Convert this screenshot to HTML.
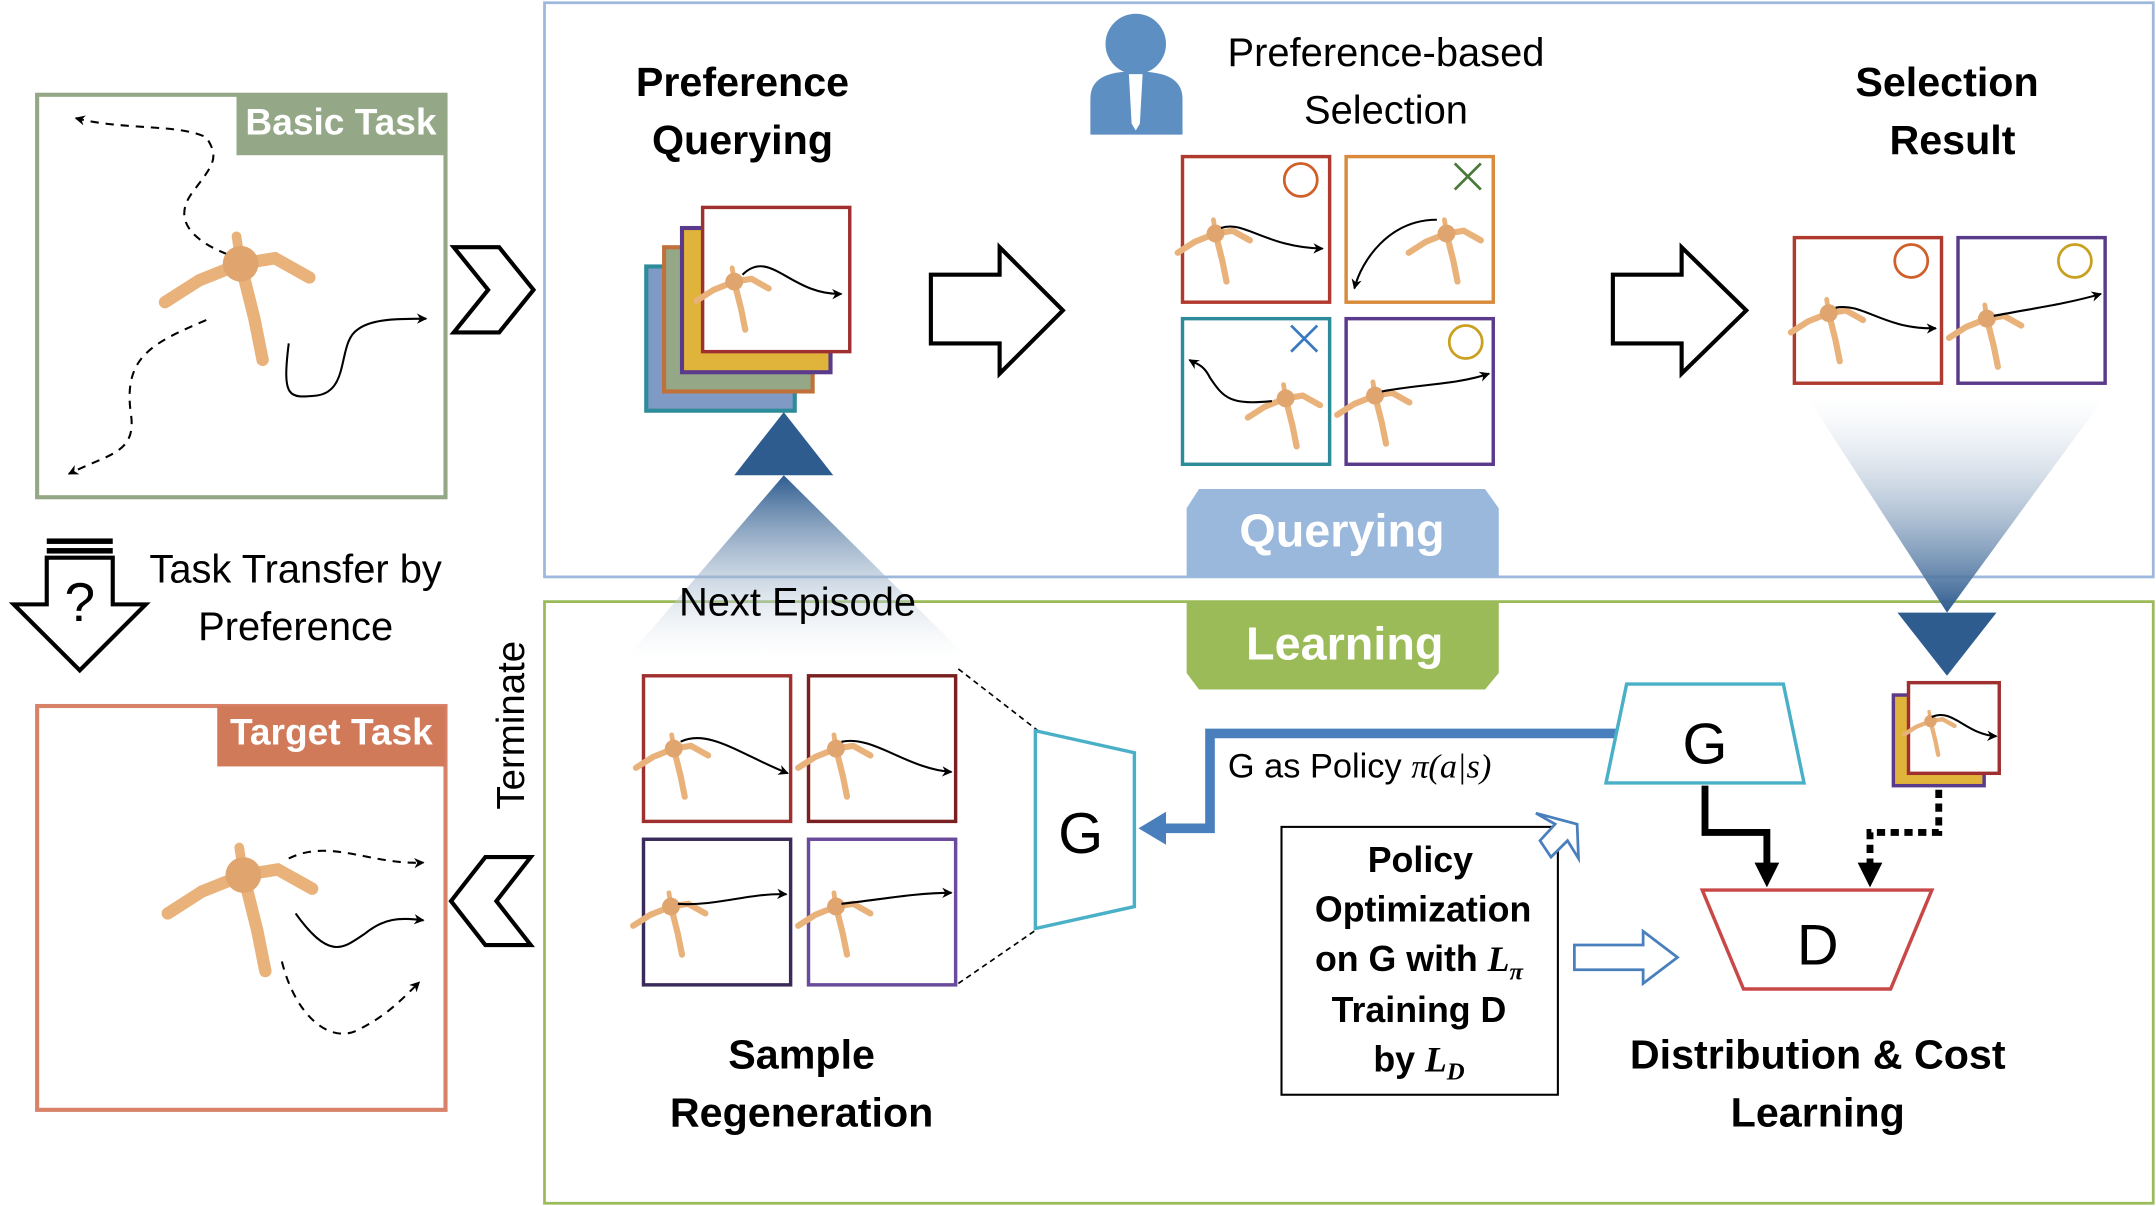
<!DOCTYPE html>
<html><head><meta charset="utf-8"><style>
html,body{margin:0;padding:0;background:#fff;width:2156px;height:1206px;overflow:hidden}
svg{display:block}
text{font-family:"Liberation Sans Narrow","Liberation Sans",sans-serif}
.b{font-weight:bold}
</style></head><body>
<svg width="2156" height="1206" viewBox="0 0 1568 878" preserveAspectRatio="none" xmlns="http://www.w3.org/2000/svg">
<defs>
<marker id="ah" viewBox="0 0 10 10" refX="9" refY="5" markerWidth="5" markerHeight="5" orient="auto"><path d="M0,0 L10,5 L0,10 L3,5z" fill="#000"/></marker>
<linearGradient id="gd" x1="0" y1="0" x2="0" y2="1"><stop offset="0" stop-color="#fff" stop-opacity="0.3"/><stop offset="1" stop-color="#2e5c8f"/></linearGradient>
<linearGradient id="gu" x1="0" y1="1" x2="0" y2="0"><stop offset="0" stop-color="#fff" stop-opacity="0.2"/><stop offset="1" stop-color="#2e5c8f"/></linearGradient>
<g id="ant">
 <g stroke="#e9b27a" stroke-linecap="round" fill="none">
  <path d="M0,0 L-30,12 L-55,28" stroke-width="9"/>
  <path d="M0,0 L25,-4 L50,10" stroke-width="9"/>
  <path d="M0,0 L10,40 L16,70" stroke-width="9"/>
  <path d="M0,0 L-3,-20" stroke-width="7"/>
 </g>
 <circle r="13" fill="#e0a56e"/>
</g>
</defs>

<rect x="396" y="2" width="1170" height="418" fill="none" stroke="#9db8dc" stroke-width="2"/>
<rect x="396" y="438" width="1170" height="438" fill="none" stroke="#9bbb59" stroke-width="2"/>

<!-- Basic Task -->
<rect x="27" y="69" width="297" height="293" fill="none" stroke="#94a887" stroke-width="3"/>
<rect x="172" y="69" width="152" height="44" fill="#94a887"/>
<text x="248" y="98" text-anchor="middle" font-size="27" fill="#fff" class="b">Basic Task</text>
<path d="M165,185 C140,175 125,160 140,140 C155,120 160,115 150,100 C130,90 90,95 55,86" fill="none" stroke="#000" stroke-width="1.5" stroke-dasharray="6,5" marker-end="url(#ah)"/>
<path d="M150,233 C110,250 90,260 95,300 C100,330 80,330 50,345" fill="none" stroke="#000" stroke-width="1.5" stroke-dasharray="6,5" marker-end="url(#ah)"/>
<use href="#ant" x="175" y="192"/>
<path d="M210,250 C205,290 210,290 230,288 C255,285 245,250 260,240 C270,232 290,232 310,232" fill="none" stroke="#000" stroke-width="1.5" marker-end="url(#ah)"/>

<polygon points="330,180 363,180 388,211 363,242 330,242 355,211" fill="#fff" stroke="#000" stroke-width="3"/>
<polygon points="386,624 353,624 328,656 353,688 386,688 361,656" fill="#fff" stroke="#000" stroke-width="3"/>

<rect x="34" y="392" width="48" height="4" fill="#000"/>
<rect x="34" y="399" width="48" height="4" fill="#000"/>
<polygon points="34,406 82,406 82,440 106,440 58,488 10,440 34,440" fill="#fff" stroke="#000" stroke-width="3"/>
<text x="58" y="452" text-anchor="middle" font-size="40" fill="#000">?</text>
<text x="215" y="424" text-anchor="middle" font-size="29">Task Transfer by</text>
<text x="215" y="466" text-anchor="middle" font-size="29">Preference</text>

<!-- Target Task -->
<rect x="27" y="514" width="297" height="294" fill="none" stroke="#d9826a" stroke-width="3"/>
<rect x="158" y="514" width="166" height="44" fill="#d07a5a"/>
<text x="241" y="542" text-anchor="middle" font-size="27" fill="#fff" class="b">Target Task</text>
<use href="#ant" x="177" y="637"/>
<path d="M210,625 C240,610 270,630 308,628" fill="none" stroke="#000" stroke-width="1.5" stroke-dasharray="6,5" marker-end="url(#ah)"/>
<path d="M215,665 C240,700 250,690 265,680 C280,668 290,668 308,670" fill="none" stroke="#000" stroke-width="1.5" marker-end="url(#ah)"/>
<path d="M205,700 C215,740 240,760 260,750 C280,740 290,730 305,715" fill="none" stroke="#000" stroke-width="1.5" stroke-dasharray="6,5" marker-end="url(#ah)"/>
<text transform="translate(381,528) rotate(-90)" text-anchor="middle" font-size="28">Terminate</text>

<!-- Preference Querying -->
<text x="540" y="70" text-anchor="middle" font-size="30" class="b">Preference</text>
<text x="540" y="112" text-anchor="middle" font-size="30" class="b">Querying</text>
<rect x="470" y="194" width="108" height="105" fill="#7f9ac4" stroke="#2e8b9a" stroke-width="3"/>
<rect x="483" y="180" width="108" height="105" fill="#94a887" stroke="#c0703a" stroke-width="3"/>
<rect x="496" y="166" width="108" height="105" fill="#e0b43a" stroke="#5a3a8a" stroke-width="3"/>
<rect x="511" y="151" width="107" height="105" fill="#fff" stroke="#a03030" stroke-width="2.5"/>
<use href="#ant" transform="translate(534,205) scale(0.5)"/>
<path d="M540,200 C560,180 575,215 612,214" fill="none" stroke="#000" stroke-width="1.5" marker-end="url(#ah)"/>

<polygon points="677,200 727,200 727,180 773,226 727,272 727,250 677,250" fill="#fff" stroke="#000" stroke-width="3"/>
<polygon points="1173,200 1223,200 1223,180 1270,226 1223,272 1223,250 1173,250" fill="#fff" stroke="#000" stroke-width="3"/>

<!-- person -->
<circle cx="826" cy="32" r="22" fill="#5d8fc3"/>
<path d="M793,98 L793,72 C793,57 805,52 826,52 C847,52 860,57 860,72 L860,98 Z" fill="#5d8fc3"/>
<polygon points="821,54 831,54 829,90 826,95 823,90" fill="#fff"/>
<text x="1008" y="48" text-anchor="middle" font-size="29">Preference-based</text>
<text x="1008" y="90" text-anchor="middle" font-size="29">Selection</text>

<rect x="860" y="114" width="107" height="106" fill="#fff" stroke="#b03a2e" stroke-width="2.5"/>
<circle cx="946" cy="131" r="12" fill="none" stroke="#d0602a" stroke-width="2"/>
<use href="#ant" transform="translate(884,170) scale(0.5)"/>
<path d="M888,166 C905,160 920,180 962,181" fill="none" stroke="#000" stroke-width="1.5" marker-end="url(#ah)"/>
<rect x="979" y="114" width="107" height="106" fill="#fff" stroke="#d98a3a" stroke-width="2.5"/>
<path d="M1058,119 L1077,138 M1077,119 L1058,138" stroke="#4a7a3a" stroke-width="2"/>
<use href="#ant" transform="translate(1052,170) scale(0.5)"/>
<path d="M1045,160 C1010,160 990,190 985,210" fill="none" stroke="#000" stroke-width="1.5" marker-end="url(#ah)"/>
<rect x="860" y="232" width="107" height="106" fill="#fff" stroke="#2e8b9a" stroke-width="2.5"/>
<path d="M939,237 L958,256 M958,237 L939,256" stroke="#3a7ac0" stroke-width="2"/>
<use href="#ant" transform="translate(935,290) scale(0.5)"/>
<path d="M925,292 C895,295 890,290 880,275 C875,265 870,265 865,262" fill="none" stroke="#000" stroke-width="1.5" marker-end="url(#ah)"/>
<rect x="979" y="232" width="107" height="106" fill="#fff" stroke="#5a3a8a" stroke-width="2.5"/>
<circle cx="1066" cy="249" r="12" fill="none" stroke="#c9a020" stroke-width="2"/>
<use href="#ant" transform="translate(1000,288) scale(0.5)"/>
<path d="M1005,285 C1030,280 1060,280 1083,272" fill="none" stroke="#000" stroke-width="1.5" marker-end="url(#ah)"/>

<polygon points="872,356 1080,356 1090,370 1090,420 863,420 863,370" fill="#9ab8dc"/>
<text x="976" y="398" text-anchor="middle" font-size="34" fill="#fff" class="b">Querying</text>
<polygon points="863,438 1090,438 1090,490 1080,502 872,502 863,490" fill="#9bbb59"/>
<text x="978" y="480" text-anchor="middle" font-size="34" fill="#fff" class="b">Learning</text>

<text x="1416" y="70" text-anchor="middle" font-size="30" class="b">Selection</text>
<text x="1420" y="112" text-anchor="middle" font-size="30" class="b">Result</text>
<polygon points="1315,290 1530,290 1416,446" fill="url(#gd)"/>
<rect x="1305" y="173" width="107" height="106" fill="#fff" stroke="#b03a2e" stroke-width="2.5"/>
<circle cx="1390" cy="190" r="12" fill="none" stroke="#d0602a" stroke-width="2"/>
<use href="#ant" transform="translate(1330,228) scale(0.5)"/>
<path d="M1335,224 C1355,220 1370,240 1408,239" fill="none" stroke="#000" stroke-width="1.5" marker-end="url(#ah)"/>
<rect x="1424" y="173" width="107" height="106" fill="#fff" stroke="#5a3a8a" stroke-width="2.5"/>
<circle cx="1509" cy="190" r="12" fill="none" stroke="#c9a020" stroke-width="2"/>
<use href="#ant" transform="translate(1445,232) scale(0.5)"/>
<path d="M1450,230 C1475,225 1500,222 1528,214" fill="none" stroke="#000" stroke-width="1.5" marker-end="url(#ah)"/>
<polygon points="1380,446 1452,446 1416,492" fill="#2e5c8f"/>

<polygon points="570,346 455,480 705,480" fill="url(#gu)"/>
<polygon points="534,346 606,346 570,300" fill="#2e5c8f"/>
<text x="580" y="448" text-anchor="middle" font-size="29">Next Episode</text>

<rect x="468" y="492" width="107" height="106" fill="#fff" stroke="#a03030" stroke-width="2.5"/>
<use href="#ant" transform="translate(490,545) scale(0.5)"/>
<path d="M495,540 C515,530 540,550 573,563" fill="none" stroke="#000" stroke-width="1.5" marker-end="url(#ah)"/>
<rect x="588" y="492" width="107" height="106" fill="#fff" stroke="#7a2020" stroke-width="2.5"/>
<use href="#ant" transform="translate(608,545) scale(0.5)"/>
<path d="M612,540 C635,535 660,560 692,562" fill="none" stroke="#000" stroke-width="1.5" marker-end="url(#ah)"/>
<rect x="468" y="611" width="107" height="106" fill="#fff" stroke="#3a2a5a" stroke-width="2.5"/>
<use href="#ant" transform="translate(488,660) scale(0.5)"/>
<path d="M493,658 C520,660 545,650 572,651" fill="none" stroke="#000" stroke-width="1.5" marker-end="url(#ah)"/>
<rect x="588" y="611" width="107" height="106" fill="#fff" stroke="#6a4a9a" stroke-width="2.5"/>
<use href="#ant" transform="translate(608,660) scale(0.5)"/>
<path d="M612,658 C640,655 665,650 692,650" fill="none" stroke="#000" stroke-width="1.5" marker-end="url(#ah)"/>
<text x="583" y="778" text-anchor="middle" font-size="30" class="b">Sample</text>
<text x="583" y="820" text-anchor="middle" font-size="30" class="b">Regeneration</text>

<path d="M697,487 L755,532 M697,716 L755,676" stroke="#000" stroke-width="1.2" stroke-dasharray="4,3"/>
<polygon points="753,532 825,548 825,660 753,676" fill="#fff" stroke="#4ab0c8" stroke-width="2.5"/>
<text x="786" y="621" text-anchor="middle" font-size="42" font-family="Liberation Sans">G</text>

<path d="M1175,534 L880,534 L880,603 L846,603" fill="none" stroke="#4a7fbd" stroke-width="7"/>
<polygon points="828,603 848,591 848,615" fill="#4a7fbd"/>
<text x="893" y="566" font-size="25" font-family="Liberation Sans">G as Policy <tspan font-family="Liberation Serif" font-style="italic">π(a|s)</tspan></text>

<polygon points="1183,498 1297,498 1312,570 1168,570" fill="#fff" stroke="#4ab0c8" stroke-width="2.5"/>
<text x="1240" y="556" text-anchor="middle" font-size="42" font-family="Liberation Sans">G</text>

<rect x="1377" y="506" width="66" height="66" fill="#e0b43a" stroke="#5a3a8a" stroke-width="2.5"/>
<rect x="1388" y="497" width="66" height="66" fill="#fff" stroke="#a03030" stroke-width="2.5"/>
<use href="#ant" transform="translate(1404,525) scale(0.35)"/>
<path d="M1405,522 C1420,515 1430,535 1452,536" fill="none" stroke="#000" stroke-width="1.5" marker-end="url(#ah)"/>

<path d="M1240,572 L1240,606 L1285,606 L1285,630" fill="none" stroke="#000" stroke-width="5"/>
<polygon points="1276,628 1294,628 1285,646" fill="#000"/>
<path d="M1410,575 L1410,606 L1360,606 L1360,630" fill="none" stroke="#000" stroke-width="5" stroke-dasharray="6,4"/>
<polygon points="1351,628 1369,628 1360,646" fill="#000"/>

<polygon points="1238,648 1405,648 1375,720 1268,720" fill="#fff" stroke="#c84848" stroke-width="2.5"/>
<text x="1322" y="702" text-anchor="middle" font-size="42" font-family="Liberation Sans">D</text>

<rect x="932" y="602" width="201" height="195" fill="#fff" stroke="#000" stroke-width="1.5"/>
<g font-size="26" class="b" text-anchor="middle">
<text x="1033" y="635">Policy</text>
<text x="1035" y="671">Optimization</text>
<text x="1032" y="707">on G with <tspan font-family="Liberation Serif" font-style="italic">L<tspan font-size="18" dy="6">π</tspan></tspan></text>
<text x="1032" y="744">Training D</text>
<text x="1032" y="780">by <tspan font-family="Liberation Serif" font-style="italic">L<tspan font-size="18" dy="6">D</tspan></tspan></text>
</g>
<polygon points="1117,592 1147,600 1148,625 1140,612 1128,624 1120,612 1131,600" fill="#fff" stroke="#4a7fbd" stroke-width="2"/>
<polygon points="1145,688 1195,688 1195,678 1220,697 1195,716 1195,706 1145,706" fill="#fff" stroke="#4a7fbd" stroke-width="2"/>

<text x="1322" y="778" text-anchor="middle" font-size="30" class="b">Distribution &amp; Cost</text>
<text x="1322" y="820" text-anchor="middle" font-size="30" class="b">Learning</text>
</svg>
</body></html>
